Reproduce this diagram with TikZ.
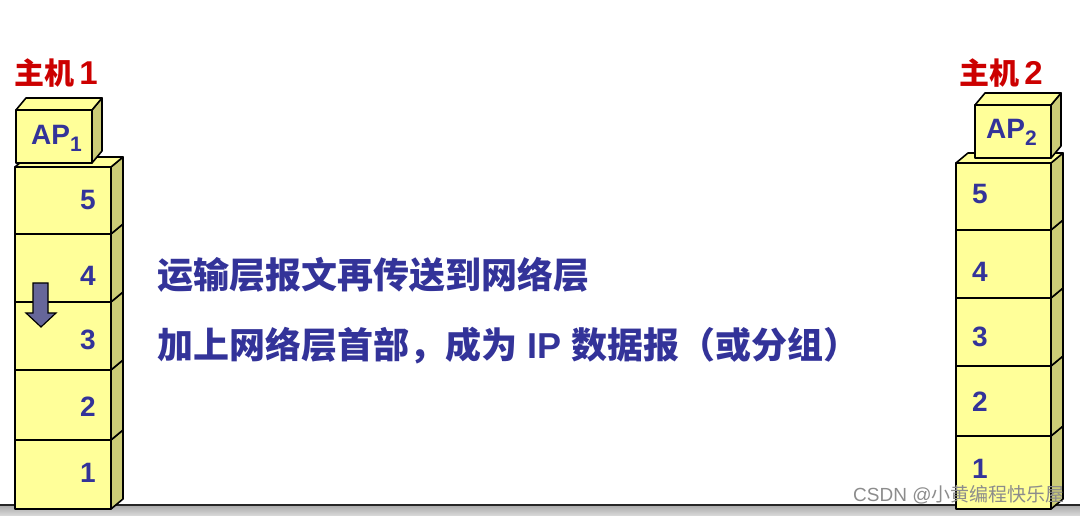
\documentclass[tikz,border=0pt]{standalone}
\usepackage{fontspec}
\setmainfont{Liberation Sans}
\newfontfamily\cjk{Noto Sans CJK SC}
\usepackage{xcolor}
\usepackage{tikz}
\usetikzlibrary{positioning,calc}

\definecolor{layerfront}{HTML}{FFFF99}
\definecolor{layerside}{HTML}{CCCC77}
\definecolor{labelblue}{HTML}{333399}
\definecolor{hostred}{HTML}{CC0000}
\definecolor{arrowfill}{HTML}{666699}

\tikzset{
  face/.style={draw=black, line width=1.6pt, line join=round, fill=layerfront},
  sideface/.style={face, fill=layerside},
  layernum/.style={text=labelblue, inner sep=0pt, font=\bfseries\fontsize{28}{30}\selectfont},
  aplabel/.style={text=labelblue, inner sep=0pt, anchor=base west, font=\bfseries\fontsize{28}{30}\selectfont},
  hostlabel/.style={text=hostred, inner sep=0pt, font=\bfseries\fontsize{30}{32}\selectfont},
  msgtext/.style={text=labelblue, inner sep=0pt, anchor=west, font=\bfseries\fontsize{36}{40}\selectfont},
}

\begin{document}
\begin{tikzpicture}[x=1pt,y=1pt]
        \useasboundingbox (0,0) rectangle (1080,516);

        % Floor
        \shade[top color=black!32, bottom color=black!14] (0,0) rectangle (1080,10);
        \draw[line width=2pt, black!85] (0,10.5) -- (1080,10.5);

        % Host 1 stack
        \foreach \lo/\hi in {7/76,76/146,146/214,214/282,282/349} {
          \draw[face] (15,\lo) rectangle (111,\hi);
          \draw[sideface] (111,\lo) -- (123,\lo+10) -- (123,\hi+10) -- (111,\hi) -- cycle;
        }
        \draw[face] (15,349) -- (27,359) -- (123,359) -- (111,349) -- cycle;

        % AP box on host 1
        \draw[face] (16,353) rectangle (92,406);
        \draw[sideface] (92,353) -- (102,365) -- (102,418) -- (92,406) -- cycle;
        \draw[face] (16,406) -- (26,418) -- (102,418) -- (92,406) -- cycle;
        \node[aplabel] (ap1) at (31,371) {AP\raisebox{-7pt}{\fontsize{21}{23}\selectfont 1}};

        % Layer numbers, host 1
        \foreach \n/\y in {5/316,4/240,3/176,2/109,1/43} {
          \node[layernum] (left\n) at (88,\y) {\n};
        }

        % Down arrow
        \draw[line width=1.2pt, line join=miter, fill=arrowfill]
          (33,233) -- (48,233) -- (48,203) -- (56,203) -- (41,189) -- (26,203) -- (33,203) -- cycle;

        % Host 2 stack
        \foreach \lo/\hi in {7/80,80/150,150/218,218/286,286/353} {
          \draw[face] (956,\lo) rectangle (1051,\hi);
          \draw[sideface] (1051,\lo) -- (1063,\lo+10) -- (1063,\hi+10) -- (1051,\hi) -- cycle;
        }
        \draw[face] (956,353) -- (968,363) -- (1063,363) -- (1051,353) -- cycle;

        % AP box on host 2
        \draw[face] (975,358) rectangle (1051,411);
        \draw[sideface] (1051,358) -- (1061,370) -- (1061,423) -- (1051,411) -- cycle;
        \draw[face] (975,411) -- (985,423) -- (1061,423) -- (1051,411) -- cycle;
        \node[aplabel] (ap2) at (986,377) {AP\raisebox{-7pt}{\fontsize{21}{23}\selectfont 2}};

        % Layer numbers, host 2
        \foreach \n/\y in {5/322,4/244,3/179,2/114,1/47} {
          \node[layernum] (right\n) at (980,\y) {\n};
        }

        % Host names
        \node[hostlabel] (host1) at (56,443) {{\cjk 主机}\,{\fontsize{33}{34}\selectfont 1}};
        \node[hostlabel] (host2) at (1001,443) {{\cjk 主机}\,{\fontsize{33}{34}\selectfont 2}};

        % Messages
        \node[msgtext] (msg1) at (157,241) {\cjk 运输层报文再传送到网络层};
        \node[msgtext] (msg2) at (157,170) {{\cjk 加上网络层首部，成为} IP {\cjk 数据报（或分组）}};

        % Watermark
        \node[text=black!45, inner sep=0pt, anchor=west, font=\fontsize{19}{21}\selectfont] (mark) at (853,21) {CSDN @{\cjk 小黄编程快乐屋}};
      \end{tikzpicture}
\end{document}
